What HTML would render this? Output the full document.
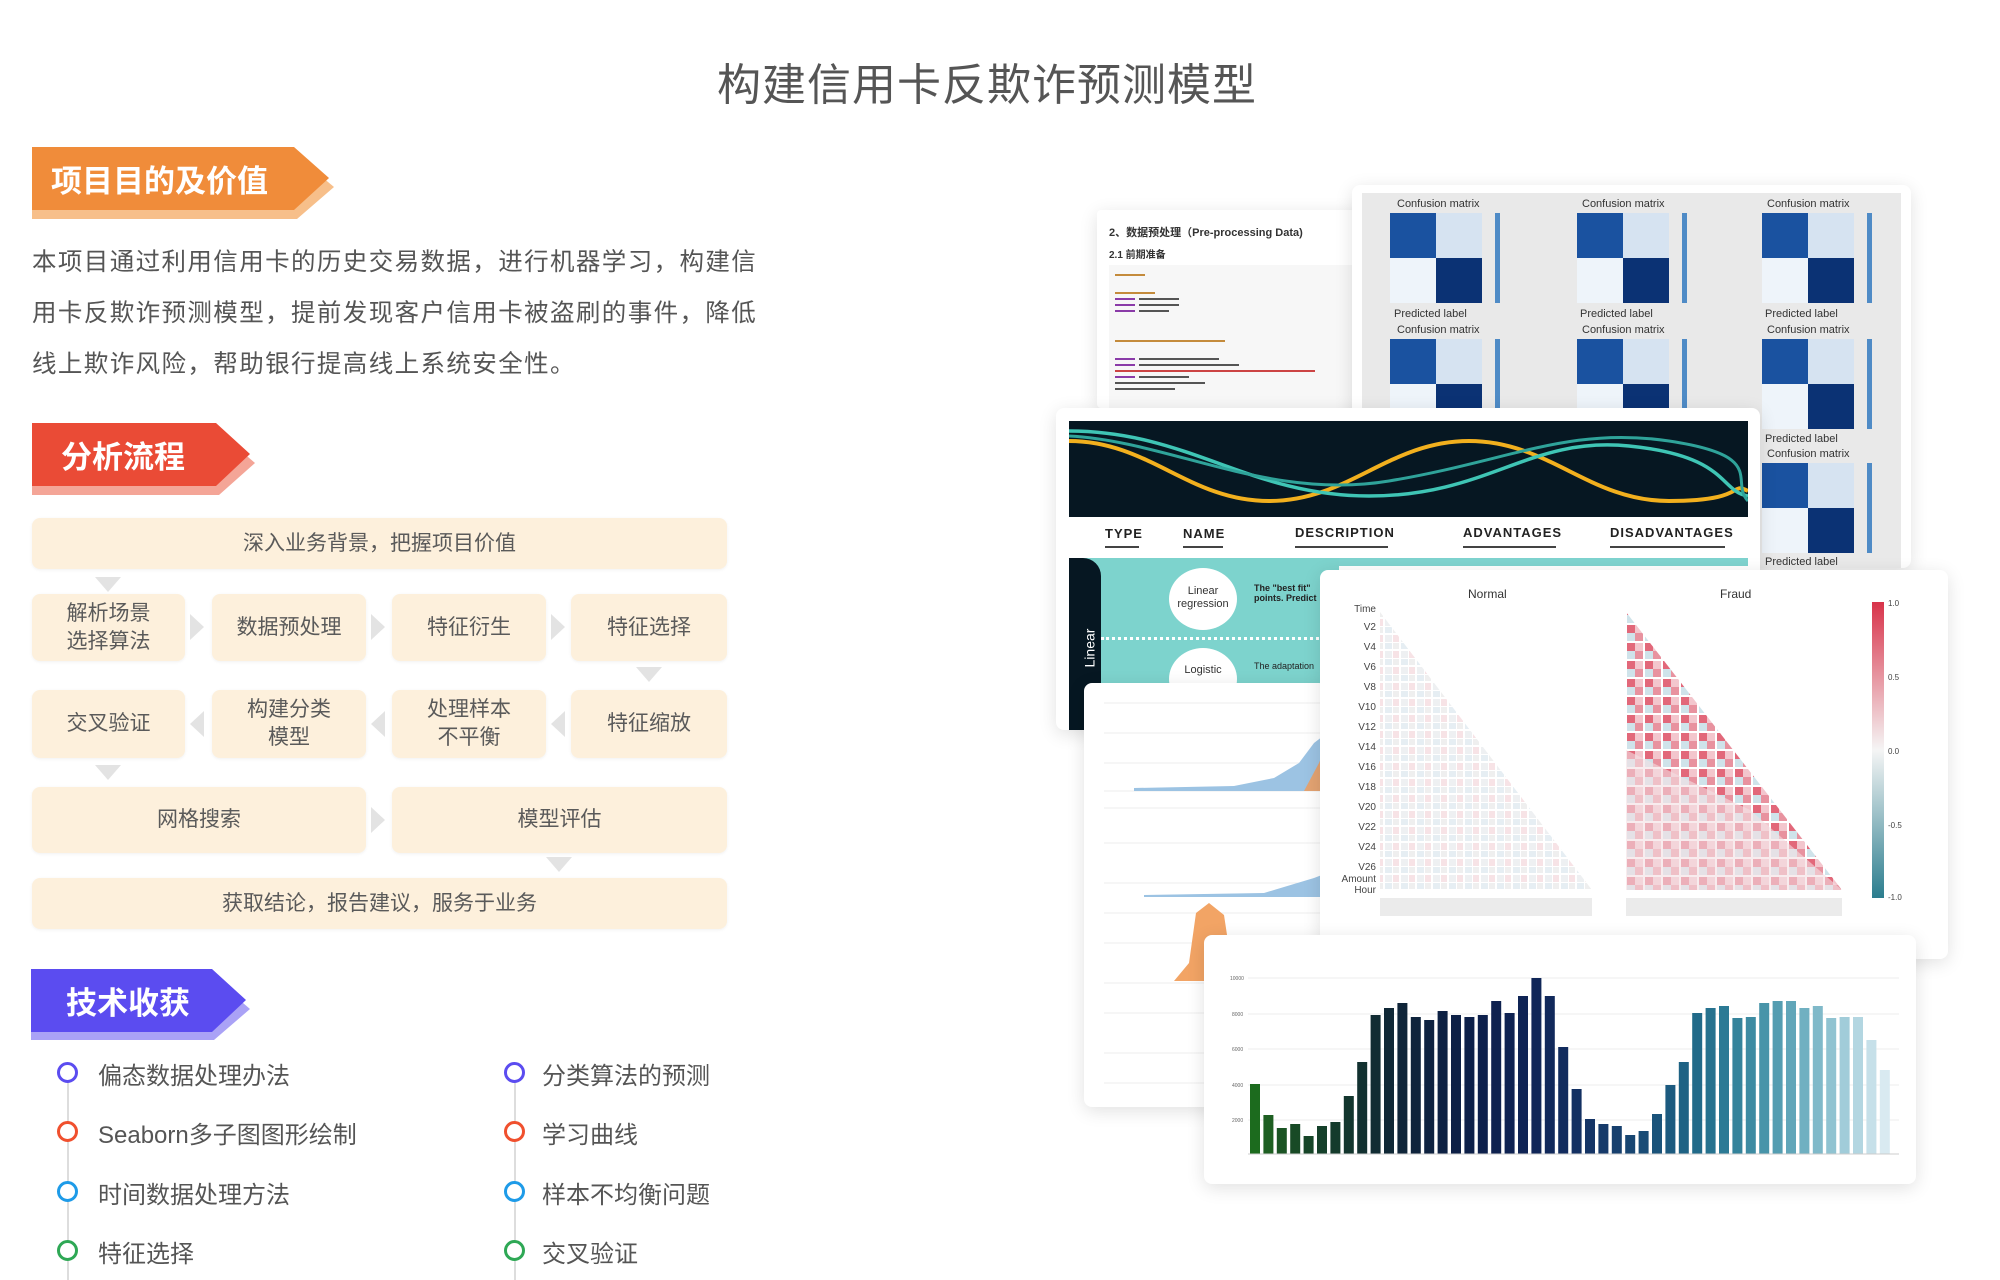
<!DOCTYPE html>
<html><head><meta charset="utf-8">
<style>
*{margin:0;padding:0;box-sizing:border-box}
body{width:2000px;height:1280px;background:#fff;position:relative;overflow:hidden;font-family:"Liberation Sans","Noto Sans CJK SC",sans-serif;color:#555}
.a{position:absolute}
.title{left:0;width:1974px;top:49px;text-align:center;font-size:44px;color:#555;letter-spacing:1px}
.ban{position:absolute;color:#fff;font-weight:bold;font-size:31px;display:flex;align-items:center}
.box{position:absolute;background:#fdf0dc;border-radius:8px;box-shadow:0 1px 3px rgba(0,0,0,.06);display:flex;align-items:center;justify-content:center;text-align:center;font-size:21px;line-height:28px;color:#5a5a5a}
.dn{position:absolute;width:0;height:0;border-left:13px solid transparent;border-right:13px solid transparent;border-top:15px solid #e3e3e3}
.rt{position:absolute;width:0;height:0;border-top:13px solid transparent;border-bottom:13px solid transparent;border-left:14px solid #e3e3e3}
.lt{position:absolute;width:0;height:0;border-top:13px solid transparent;border-bottom:13px solid transparent;border-right:14px solid #e3e3e3}
.li{position:absolute;font-size:24px;color:#555}
.ci{position:absolute;width:21px;height:21px;border-radius:50%;border:3px solid;background:#fff}
.card{position:absolute;background:#fff;border-radius:8px;box-shadow:0 4px 18px rgba(0,0,0,.12);overflow:hidden}
</style></head><body>
<div class="a title">构建信用卡反欺诈预测模型</div>

<!-- banner 1 -->
<div class="a" style="left:32px;top:156px;width:302px;height:63px;background:#f7bf8a;clip-path:polygon(0 0,265px 0,302px 31px,265px 63px,0 63px)"></div>
<div class="ban" style="left:32px;top:147px;width:297px;height:63px;background:#f08c3a;clip-path:polygon(0 0,262px 0,297px 31px,262px 63px,0 63px);padding-left:19px">项目目的及价值</div>

<div class="a" style="left:32px;top:237px;width:740px;font-size:24.5px;line-height:51px;letter-spacing:1.4px;color:#555">本项目通过利用信用卡的历史交易数据，进行机器学习，构建信用卡反欺诈预测模型，提前发现客户信用卡被盗刷的事件，降低线上欺诈风险，帮助银行提高线上系统安全性。</div>

<!-- banner 2 -->
<div class="a" style="left:32px;top:432px;width:223px;height:63px;background:#f4a597;clip-path:polygon(0 0,187px 0,223px 31px,187px 63px,0 63px)"></div>
<div class="ban" style="left:32px;top:423px;width:218px;height:63px;background:#ea4b36;clip-path:polygon(0 0,184px 0,218px 31px,184px 63px,0 63px);padding-left:29px">分析流程</div>

<!-- flow -->
<div class="box" style="left:32px;top:518px;width:695px;height:51px">深入业务背景，把握项目价值</div>
<div class="dn" style="left:95px;top:577px"></div>
<div class="box" style="left:32px;top:594px;width:153px;height:67px">解析场景<br>选择算法</div>
<div class="box" style="left:212px;top:594px;width:154px;height:67px">数据预处理</div>
<div class="box" style="left:392px;top:594px;width:154px;height:67px">特征衍生</div>
<div class="box" style="left:571px;top:594px;width:156px;height:67px">特征选择</div>
<div class="rt" style="left:190px;top:614px"></div>
<div class="rt" style="left:371px;top:614px"></div>
<div class="rt" style="left:551px;top:614px"></div>
<div class="dn" style="left:636px;top:667px"></div>
<div class="box" style="left:32px;top:690px;width:153px;height:68px">交叉验证</div>
<div class="box" style="left:212px;top:690px;width:154px;height:68px">构建分类<br>模型</div>
<div class="box" style="left:392px;top:690px;width:154px;height:68px">处理样本<br>不平衡</div>
<div class="box" style="left:571px;top:690px;width:156px;height:68px">特征缩放</div>
<div class="lt" style="left:190px;top:711px"></div>
<div class="lt" style="left:371px;top:711px"></div>
<div class="lt" style="left:551px;top:711px"></div>
<div class="dn" style="left:95px;top:765px"></div>
<div class="box" style="left:32px;top:787px;width:334px;height:66px">网格搜索</div>
<div class="box" style="left:392px;top:787px;width:335px;height:66px">模型评估</div>
<div class="rt" style="left:371px;top:807px"></div>
<div class="dn" style="left:546px;top:857px"></div>
<div class="box" style="left:32px;top:878px;width:695px;height:51px">获取结论，报告建议，服务于业务</div>

<!-- banner 3 -->
<div class="a" style="left:31px;top:978px;width:219px;height:62px;background:#aaa2f6;clip-path:polygon(0 0,183px 0,219px 31px,183px 62px,0 62px)"></div>
<div class="ban" style="left:31px;top:969px;width:215px;height:63px;background:#5b4cf0;clip-path:polygon(0 0,181px 0,215px 31px,181px 63px,0 63px);padding-left:35px">技术收获</div>

<!-- list -->
<div class="a" style="left:67px;top:1081px;width:2px;height:199px;background:#ddd"></div>
<div class="a" style="left:514px;top:1081px;width:2px;height:199px;background:#ddd"></div>
<div class="ci" style="left:57px;top:1062px;border-color:#5b4cf0"></div>
<div class="ci" style="left:57px;top:1121px;border-color:#f0502e"></div>
<div class="ci" style="left:57px;top:1181px;border-color:#1e9be8"></div>
<div class="ci" style="left:57px;top:1240px;border-color:#2ea855"></div>
<div class="ci" style="left:504px;top:1062px;border-color:#5b4cf0"></div>
<div class="ci" style="left:504px;top:1121px;border-color:#f0502e"></div>
<div class="ci" style="left:504px;top:1181px;border-color:#1e9be8"></div>
<div class="ci" style="left:504px;top:1240px;border-color:#2ea855"></div>
<div class="li" style="left:98px;top:1056px">偏态数据处理办法</div>
<div class="li" style="left:98px;top:1115px">Seaborn多子图图形绘制</div>
<div class="li" style="left:98px;top:1175px">时间数据处理方法</div>
<div class="li" style="left:98px;top:1234px">特征选择</div>
<div class="li" style="left:542px;top:1056px">分类算法的预测</div>
<div class="li" style="left:542px;top:1115px">学习曲线</div>
<div class="li" style="left:542px;top:1175px">样本不均衡问题</div>
<div class="li" style="left:542px;top:1234px">交叉验证</div>

<!-- collage -->
<div class="card" style="left:1097px;top:210px;width:270px;height:198px;border-radius:4px">
<div class="a" style="left:12px;top:14px;font-size:11px;font-weight:bold;color:#333">2、数据预处理（Pre-processing Data)</div>
<div class="a" style="left:12px;top:36px;font-size:10px;font-weight:bold;color:#333">2.1 前期准备</div>
<div class="a" style="left:12px;top:55px;width:250px;height:143px;background:#f7f7f7"></div>
<svg class="a" style="left:18px;top:62px" width="240" height="140">
<g fill="#c48b3c"><rect x="0" y="2" width="30" height="2"/><rect x="0" y="20" width="40" height="2"/><rect x="0" y="68" width="110" height="2"/></g>
<g fill="#8a3ba8"><rect x="0" y="26" width="20" height="2"/><rect x="0" y="32" width="20" height="2"/><rect x="0" y="38" width="20" height="2"/><rect x="0" y="86" width="20" height="2"/><rect x="0" y="92" width="20" height="2"/><rect x="0" y="104" width="20" height="2"/></g>
<g fill="#555"><rect x="24" y="26" width="40" height="2"/><rect x="24" y="32" width="40" height="2"/><rect x="24" y="38" width="30" height="2"/><rect x="24" y="86" width="80" height="2"/><rect x="24" y="92" width="100" height="2"/><rect x="0" y="98" width="200" height="2" fill="#c44"/><rect x="24" y="104" width="50" height="2"/><rect x="0" y="110" width="90" height="2"/><rect x="0" y="116" width="60" height="2"/></g>
</svg>
</div>

<div class="card" style="left:1352px;top:185px;width:559px;height:383px;background:#fff">
<div class="a" style="left:10px;top:8px;width:539px;height:375px;background:#e9e9e9"></div>
<svg class="a" style="left:0;top:0" width="559" height="383" font-family="Liberation Sans" font-size="11" fill="#333">
<defs>
<g id="cm"><rect x="0" y="0" width="46" height="45" fill="#1a52a0"/><rect x="46" y="0" width="46" height="45" fill="#d6e3f1"/><rect x="0" y="45" width="46" height="45" fill="#eef4fa"/><rect x="46" y="45" width="46" height="45" fill="#0b3274"/>
<rect x="105" y="0" width="5" height="90" fill="#4f8bc6"/></g>
</defs>
<g>
<text x="45" y="22">Confusion matrix</text><use href="#cm" x="38" y="28"/><text x="42" y="132">Predicted label</text>
<text x="230" y="22">Confusion matrix</text><use href="#cm" x="225" y="28"/><text x="228" y="132">Predicted label</text>
<text x="415" y="22">Confusion matrix</text><use href="#cm" x="410" y="28"/><text x="413" y="132">Predicted label</text>
<text x="45" y="148">Confusion matrix</text><use href="#cm" x="38" y="154"/>
<text x="230" y="148">Confusion matrix</text><use href="#cm" x="225" y="154"/>
<text x="415" y="148">Confusion matrix</text><use href="#cm" x="410" y="154"/><text x="413" y="257">Predicted label</text>
<text x="415" y="272">Confusion matrix</text><use href="#cm" x="410" y="278"/><text x="413" y="380">Predicted label</text>
</g>
</svg>
</div>

<div class="card" style="left:1056px;top:408px;width:704px;height:322px">
<svg class="a" style="left:13px;top:13px" width="679" height="96">
<rect width="679" height="96" fill="#061722"/>
<path d="M0 20 C80 20 120 80 200 80 S320 20 400 20 S520 80 600 80 S660 60 679 70" stroke="#f2b01e" stroke-width="4" fill="none"/>
<path d="M0 10 C120 10 180 75 300 75 S460 15 560 25 S650 70 679 75" stroke="#3fc5b5" stroke-width="3.5" fill="none"/>
<path d="M0 15 C100 20 200 80 320 60 S500 5 600 20 S660 60 679 80" stroke="#2fa39a" stroke-width="3" fill="none"/>
</svg>
<div class="a" style="left:49px;top:118px;font-size:13px;font-weight:bold;color:#222;letter-spacing:1px">TYPE</div>
<div class="a" style="left:127px;top:118px;font-size:13px;font-weight:bold;color:#222;letter-spacing:1px">NAME</div>
<div class="a" style="left:239px;top:117px;font-size:13px;font-weight:bold;color:#222;letter-spacing:1px">DESCRIPTION</div>
<div class="a" style="left:407px;top:117px;font-size:13px;font-weight:bold;color:#222;letter-spacing:1px">ADVANTAGES</div>
<div class="a" style="left:554px;top:117px;font-size:13px;font-weight:bold;color:#222;letter-spacing:1px">DISADVANTAGES</div>
<div class="a" style="left:49px;top:138px;width:34px;height:2px;background:#444"></div>
<div class="a" style="left:127px;top:138px;width:40px;height:2px;background:#444"></div>
<div class="a" style="left:239px;top:138px;width:93px;height:2px;background:#444"></div>
<div class="a" style="left:407px;top:138px;width:93px;height:2px;background:#444"></div>
<div class="a" style="left:554px;top:138px;width:115px;height:2px;background:#444"></div>
<div class="a" style="left:13px;top:150px;width:679px;height:8px;background:#7fd3cf"></div>
<div class="a" style="left:13px;top:150px;width:270px;height:172px;background:#7dd3cd"></div>
<div class="a" style="left:13px;top:150px;width:32px;height:172px;background:#061722;border-top-right-radius:18px"></div>
<div class="a" style="left:14px;top:232px;color:#fff;font-size:14px;transform:rotate(-90deg)">Linear</div>
<div class="a" style="left:45px;top:229px;width:230px;border-top:3px dotted #fff"></div>
<div class="a" style="left:113px;top:160px;width:68px;height:62px;border-radius:50%;background:#fff;font-size:11px;color:#333;text-align:center;padding-top:17px;line-height:13px">Linear<br>regression</div>
<div class="a" style="left:113px;top:240px;width:68px;height:62px;border-radius:50%;background:#fff;font-size:11px;color:#333;text-align:center;padding-top:16px">Logistic</div>
<div class="a" style="left:198px;top:175px;font-size:9px;font-weight:bold;color:#222">The "best fit"<br>points. Predict</div>
<div class="a" style="left:198px;top:253px;font-size:9px;color:#222">The adaptation</div>
</div>

<div class="card" style="left:1084px;top:683px;width:243px;height:424px">
<svg class="a" style="left:0;top:0" width="243" height="424">
<g stroke="#eee" stroke-width="1">
<line x1="20" y1="20" x2="240" y2="20"/><line x1="20" y1="50" x2="240" y2="50"/><line x1="20" y1="80" x2="240" y2="80"/><line x1="20" y1="108" x2="240" y2="108"/>
<line x1="20" y1="125" x2="240" y2="125"/><line x1="20" y1="160" x2="240" y2="160"/><line x1="20" y1="200" x2="240" y2="200"/>
<line x1="20" y1="230" x2="240" y2="230"/><line x1="20" y1="260" x2="240" y2="260"/><line x1="20" y1="300" x2="240" y2="300"/>
<line x1="20" y1="330" x2="240" y2="330"/><line x1="20" y1="370" x2="240" y2="370"/><line x1="20" y1="400" x2="240" y2="400"/>
</g>
<path d="M50 105 L150 103 L190 95 L215 80 L230 60 L243 50 L243 108 L50 108Z" fill="#9cc3e3"/>
<path d="M220 108 L235 80 L243 60 L243 108Z" fill="#e3a372"/>
<path d="M60 212 L180 210 L230 195 L243 190 L243 214 L60 214Z" fill="#9cc3e3"/>
<path d="M90 298 L105 280 L112 230 L125 220 L140 232 L150 298Z" fill="#f2a465"/>
<path d="M120 405 L243 400 L243 408 L120 408Z" fill="#9cc3e3"/>
</svg>
</div>

<div class="card" style="left:1320px;top:570px;width:628px;height:389px">
<svg class="a" style="left:0;top:0" width="628" height="389" font-family="Liberation Sans">
<defs>
<pattern id="pn" width="16" height="16" patternUnits="userSpaceOnUse">
<rect width="16" height="16" fill="#fff"/><rect x="1" y="1" width="7" height="7" fill="#eef0f2"/><rect x="9" y="1" width="6" height="7" fill="#f7e3e6"/><rect x="1" y="9" width="7" height="6" fill="#e6eef3"/><rect x="9" y="9" width="6" height="6" fill="#efefef"/>
</pattern>
<pattern id="pf" width="18" height="18" patternUnits="userSpaceOnUse">
<rect width="18" height="18" fill="#fff"/><rect x="1" y="1" width="8" height="8" fill="#e2687a"/><rect x="9" y="1" width="8" height="8" fill="#f3c6cd"/><rect x="1" y="9" width="8" height="8" fill="#cfe3ea"/><rect x="9" y="9" width="8" height="8" fill="#e8929f"/>
</pattern>
<linearGradient id="cb" x1="0" y1="0" x2="0" y2="1"><stop offset="0" stop-color="#d8334a"/><stop offset=".5" stop-color="#f5f5f5"/><stop offset="1" stop-color="#2b7d8e"/></linearGradient>
</defs>
<text x="148" y="28" font-size="12" fill="#333">Normal</text>
<text x="400" y="28" font-size="12" fill="#333">Fraud</text>
<polygon points="60,42 60,320 272,320" fill="url(#pn)"/>
<polygon points="306,42 306,320 522,320" fill="url(#pf)"/>
<polygon points="306,180 306,320 522,320 430,240" fill="#f3dfe3" opacity=".6"/>
<g font-size="10" fill="#444" text-anchor="end">
<text x="56" y="42">Time</text><text x="56" y="60">V2</text><text x="56" y="80">V4</text><text x="56" y="100">V6</text><text x="56" y="120">V8</text><text x="56" y="140">V10</text><text x="56" y="160">V12</text><text x="56" y="180">V14</text><text x="56" y="200">V16</text><text x="56" y="220">V18</text><text x="56" y="240">V20</text><text x="56" y="260">V22</text><text x="56" y="280">V24</text><text x="56" y="300">V26</text><text x="56" y="312">Amount</text><text x="56" y="323">Hour</text>
</g>
<rect x="60" y="328" width="212" height="18" fill="#ddd" opacity=".6"/>
<rect x="306" y="328" width="216" height="18" fill="#ddd" opacity=".6"/>
<rect x="552" y="32" width="12" height="296" fill="url(#cb)"/>
<g font-size="8" fill="#444"><text x="568" y="36">1.0</text><text x="568" y="110">0.5</text><text x="568" y="184">0.0</text><text x="568" y="258">-0.5</text><text x="568" y="330">-1.0</text></g>
</svg>
</div>

<div class="card" style="left:1204px;top:935px;width:712px;height:249px">
<svg class="a" style="left:0;top:0" width="712" height="249">
<g stroke="#eee"><line x1="44" y1="43" x2="695" y2="43"/><line x1="44" y1="79" x2="695" y2="79"/><line x1="44" y1="114" x2="695" y2="114"/><line x1="44" y1="150" x2="695" y2="150"/><line x1="44" y1="185" x2="695" y2="185"/><line x1="44" y1="219" x2="695" y2="219"/></g>
<g font-size="5" fill="#666" font-family="Liberation Sans"><text x="26" y="45">10000</text><text x="28" y="81">8000</text><text x="28" y="116">6000</text><text x="28" y="152">4000</text><text x="28" y="187">2000</text></g>
<g transform="translate(46,219) scale(1,-1)">
<rect x="0" width="10" height="70" fill="#1c6b1e"/>
<rect x="13.4" width="10" height="39" fill="#1e5f22"/>
<rect x="26.8" width="10" height="26" fill="#1b5424"/>
<rect x="40.2" width="10" height="30" fill="#184a26"/>
<rect x="53.6" width="10" height="18" fill="#164528"/>
<rect x="67" width="10" height="28" fill="#15402a"/>
<rect x="80.4" width="10" height="32" fill="#143b2c"/>
<rect x="93.8" width="10" height="58" fill="#13362e"/>
<rect x="107.2" width="10" height="92" fill="#123130"/>
<rect x="120.6" width="10" height="139" fill="#112c33"/>
<rect x="134" width="10" height="146" fill="#102836"/>
<rect x="147.4" width="10" height="151" fill="#0f2539"/>
<rect x="160.8" width="10" height="137" fill="#0e233c"/>
<rect x="174.2" width="10" height="134" fill="#0e2240"/>
<rect x="187.6" width="10" height="143" fill="#0d2143"/>
<rect x="201" width="10" height="139" fill="#0d2046"/>
<rect x="214.4" width="10" height="137" fill="#0d2049"/>
<rect x="227.8" width="10" height="139" fill="#0d204c"/>
<rect x="241.2" width="10" height="153" fill="#0e214f"/>
<rect x="254.6" width="10" height="141" fill="#0e2252"/>
<rect x="268" width="10" height="158" fill="#0f2455"/>
<rect x="281.4" width="10" height="176" fill="#102658"/>
<rect x="294.8" width="10" height="158" fill="#11295b"/>
<rect x="308.2" width="10" height="107" fill="#122c5e"/>
<rect x="321.6" width="10" height="65" fill="#133062"/>
<rect x="335" width="10" height="35" fill="#153566"/>
<rect x="348.4" width="10" height="30" fill="#163a6a"/>
<rect x="361.8" width="10" height="28" fill="#17406e"/>
<rect x="375.2" width="10" height="19" fill="#184672"/>
<rect x="388.6" width="10" height="23" fill="#194c76"/>
<rect x="402" width="10" height="40" fill="#1a537a"/>
<rect x="415.4" width="10" height="69" fill="#1c5a7f"/>
<rect x="428.8" width="10" height="92" fill="#1e6284"/>
<rect x="442.2" width="10" height="141" fill="#216a89"/>
<rect x="455.6" width="10" height="146" fill="#26728f"/>
<rect x="469" width="10" height="148" fill="#2c7a95"/>
<rect x="482.4" width="10" height="136" fill="#34839b"/>
<rect x="495.8" width="10" height="137" fill="#3d8ba2"/>
<rect x="509.2" width="10" height="151" fill="#4894a9"/>
<rect x="522.6" width="10" height="153" fill="#549db1"/>
<rect x="536" width="10" height="153" fill="#61a6b9"/>
<rect x="549.4" width="10" height="146" fill="#70b0c1"/>
<rect x="562.8" width="10" height="148" fill="#80b9c9"/>
<rect x="576.2" width="10" height="136" fill="#90c3d1"/>
<rect x="589.6" width="10" height="137" fill="#a1ccd9"/>
<rect x="603" width="10" height="137" fill="#b3d6e1"/>
<rect x="616.4" width="10" height="114" fill="#c6e0e9"/>
<rect x="629.8" width="10" height="84" fill="#d9eaf1"/>
</g>
<line x1="44" y1="219" x2="695" y2="219" stroke="#ccc"/>
</svg>
</div>
</body></html>
